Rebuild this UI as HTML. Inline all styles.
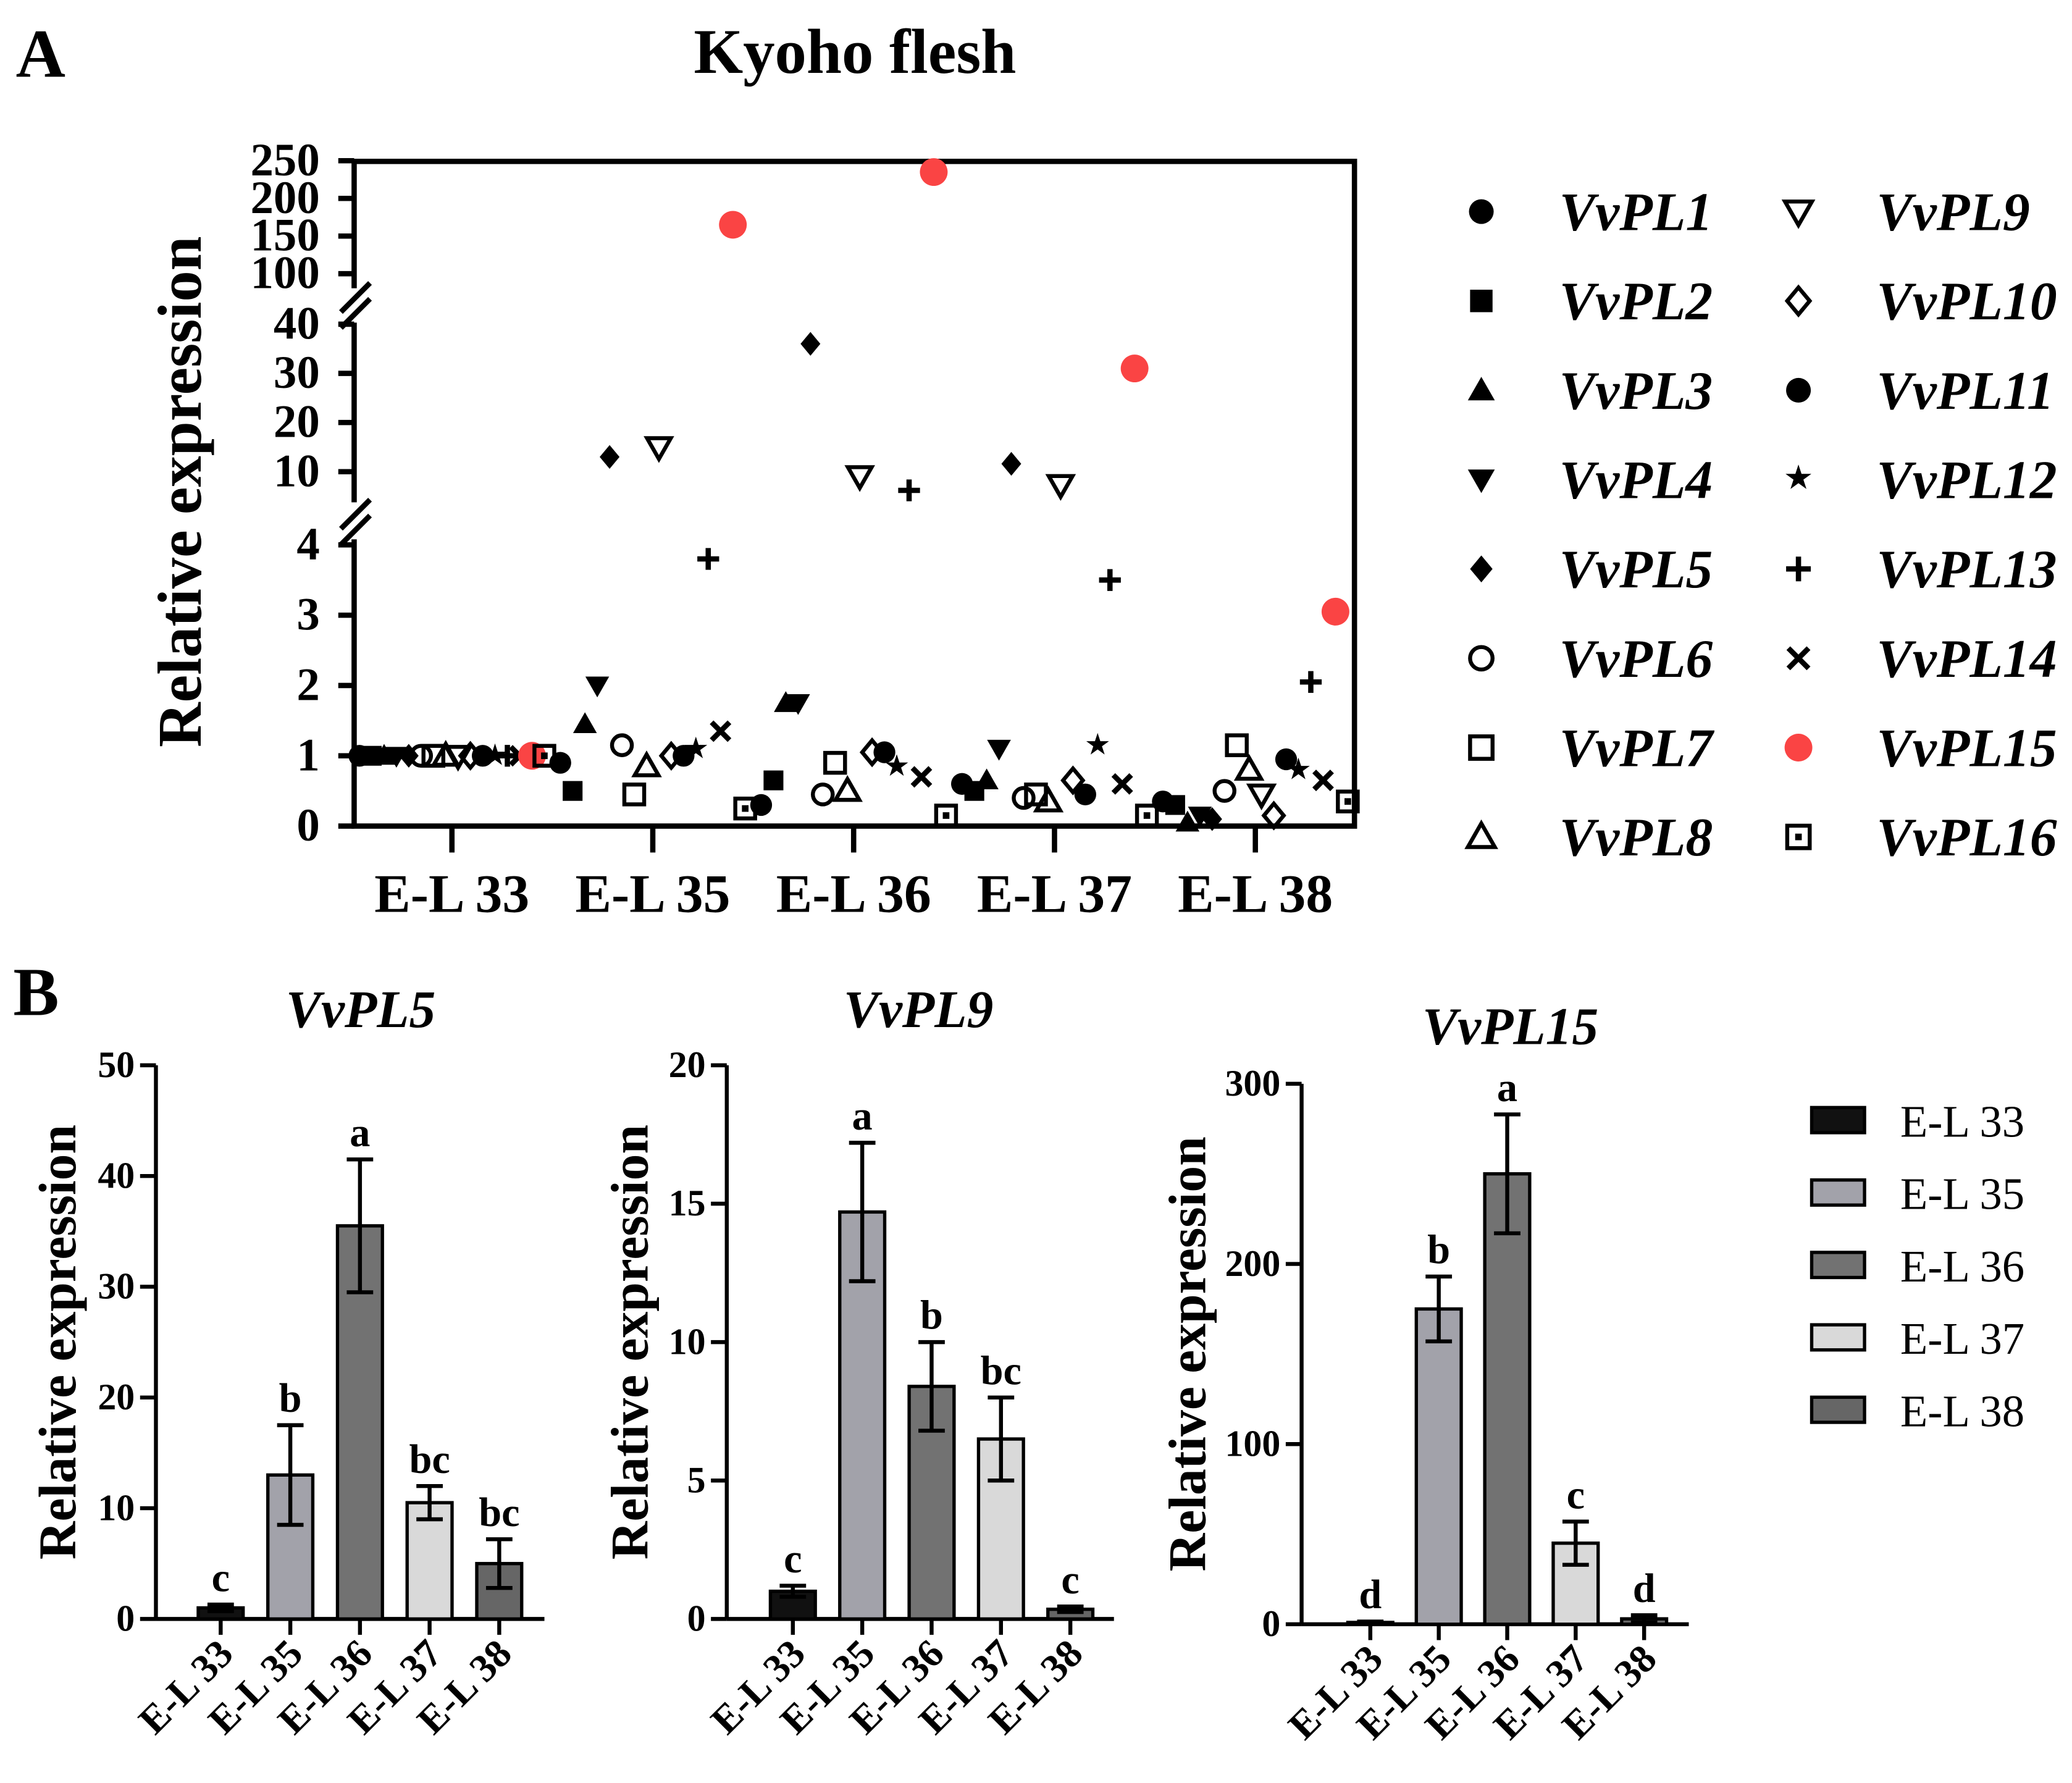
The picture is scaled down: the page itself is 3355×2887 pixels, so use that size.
<!DOCTYPE html>
<html><head><meta charset="utf-8"><style>
html,body{margin:0;padding:0;background:#fff}
svg{display:block}
text{font-family:"Liberation Serif",serif}
</style></head><body>
<svg id="fig" width="3355" height="2887" viewBox="0 0 1568 1349" xmlns="http://www.w3.org/2000/svg">
<rect width="1568" height="1349" fill="#fff"/>
<g id="A"></g>
<g id="B"></g>
</svg>
<script>
// ---------- Panel A data ----------
const stages = ["E-L 33","E-L 35","E-L 36","E-L 37","E-L 38"];
const genes = ["VvPL1","VvPL2","VvPL3","VvPL4","VvPL5","VvPL6","VvPL7","VvPL8","VvPL9","VvPL10","VvPL11","VvPL12","VvPL13","VvPL14","VvPL15","VvPL16"];
const el33 = [1,1,1,1,1,1,1,1,1,1,1,1,1,1,1,1];
const el35 = [0.9,0.5,1.45,2.0,13,1.15,0.45,0.85,15,1.0,1.0,1.1,3.8,1.35,165,0.25];
const el36 = [0.3,0.65,1.75,1.75,36,0.45,0.9,0.5,9.1,1.05,1.05,0.85,6.2,0.7,235,0.15];
const el37 = [0.6,0.5,0.65,1.1,11.6,0.4,0.45,0.35,7.3,0.65,0.45,1.15,3.5,0.6,31,0.15];
const el38 = [0.35,0.3,0.05,0.15,0.1,0.5,1.15,0.8,0.45,0.15,0.95,0.8,2.05,0.65,3.05,0.35];
const yTicksLow = [0,1,2,3,4];
const yTicksMid = [10,20,30,40];
const yTicksTop = [100,150,200,250];

// ---------- Panel B data ----------
const barStages = ["E-L 33","E-L 35","E-L 36","E-L 37","E-L 38"];
const pl5Vals = [1,13,35.5,10.5,5];
const pl5Err = [0.3,4.5,6,1.5,2.2];
const pl5Letters = ["c","b","a","bc","bc"];
const pl5Ticks = [0,10,20,30,40,50];
const pl9Vals = [1,14.7,8.4,6.5,0.35];
const pl9Err = [0.2,2.5,1.6,1.5,0.1];
const pl9Letters = ["c","a","b","bc","c"];
const pl9Ticks = [0,5,10,15,20];
const pl15Vals = [1,175,250,45,3];
const pl15Err = [0.5,18,33,12,2];
const pl15Letters = ["d","b","a","c","d"];
const pl15Ticks = [0,100,200,300];

const NS="http://www.w3.org/2000/svg";
function mk(parent,tag,attrs,txt){const e=document.createElementNS(NS,tag);for(const k in attrs)e.setAttribute(k,attrs[k]);if(txt!==undefined)e.textContent=txt;parent.appendChild(e);return e;}

// ---------- Panel A ----------
const A=document.getElementById('A');
function yA(v){ if(v<=4.3) return 625-v*53.2; if(v<=45) return 394-v*3.72; return 207-(v-100)*0.57; }
function xA(si,gi){ return 342+si*152-70+gi*9.33; }

let t;
t=mk(A,'text',{x:12,y:58,'font-size':52,'font-weight':'bold'},'A');

t=mk(A,'text',{x:647,y:55,'font-size':48,'font-weight':'bold','text-anchor':'middle'},'Kyoho flesh');

t=mk(A,'text',{x:0,y:0,'font-size':47,'font-weight':'bold','text-anchor':'middle',transform:'translate(152,372) rotate(-90)'},'Relative expression');


// axes
const axA=mk(A,'g',{stroke:'#000','stroke-width':4,fill:'none'});

mk(axA,'path',{d:'M268,122 H1025 V625 H268 Z'});
mk(A,'rect',{x:262,y:218,width:12,height:26,fill:'#fff'});
mk(A,'rect',{x:262,y:380,width:12,height:28,fill:'#fff'});
mk(A,'path',{d:'M258,236 L280,214 M258,248 L280,226 M258,400 L280,378 M258,412 L280,390',stroke:'#000','stroke-width':4});
function yTick(v){
  const y=yA(v);
  mk(A,'line',{x1:256,x2:268,y1:y,y2:y,stroke:'#000','stroke-width':4});
  const tl=mk(A,'text',{x:242,y:y+11,'font-size':35,'font-weight':'bold','text-anchor':'end'},String(v));
  
}
yTicksLow.forEach(yTick);yTicksMid.forEach(yTick);yTicksTop.forEach(yTick);
stages.forEach((s,i)=>{
  const x=342+i*152;
  mk(A,'line',{x1:x,x2:x,y1:625,y2:645,stroke:'#000','stroke-width':4});
  const tl=mk(A,'text',{x:x,y:690,'font-size':41,'font-weight':'bold','text-anchor':'middle'},s);
  
});

function marker(g,gi,x,y,s){
  const k='#000';
  switch(gi){
    case 0: case 10: mk(g,'circle',{cx:x,cy:y,r:s*0.55,fill:k});break;
    case 1: mk(g,'rect',{x:x-s*0.5,y:y-s*0.5,width:s,height:s,fill:k});break;
    case 2: mk(g,'path',{d:`M${x},${y-s*0.6} L${x+s*0.6},${y+s*0.45} L${x-s*0.6},${y+s*0.45}Z`,fill:k});break;
    case 3: mk(g,'path',{d:`M${x},${y+s*0.6} L${x+s*0.6},${y-s*0.45} L${x-s*0.6},${y-s*0.45}Z`,fill:k});break;
    case 4: mk(g,'path',{d:`M${x},${y-s*0.6} L${x+s*0.5},${y} L${x},${y+s*0.6} L${x-s*0.5},${y}Z`,fill:k});break;
    case 5: mk(g,'circle',{cx:x,cy:y,r:s*0.5,fill:'none',stroke:k,'stroke-width':3});break;
    case 6: mk(g,'rect',{x:x-s*0.5,y:y-s*0.5,width:s,height:s,fill:'none',stroke:k,'stroke-width':3});break;
    case 7: mk(g,'path',{d:`M${x},${y-s*0.6} L${x+s*0.6},${y+s*0.45} L${x-s*0.6},${y+s*0.45}Z`,fill:'none',stroke:k,'stroke-width':3});break;
    case 8: mk(g,'path',{d:`M${x},${y+s*0.6} L${x+s*0.6},${y-s*0.45} L${x-s*0.6},${y-s*0.45}Z`,fill:'none',stroke:k,'stroke-width':3});break;
    case 9: mk(g,'path',{d:`M${x},${y-s*0.6} L${x+s*0.5},${y} L${x},${y+s*0.6} L${x-s*0.5},${y}Z`,fill:'none',stroke:k,'stroke-width':3});break;
    case 11: mk(g,'text',{x:x,y:y+7,'font-size':s*1.5,'text-anchor':'middle','font-family':'DejaVu Sans'},'★');break;
    case 12: mk(g,'path',{d:`M${x-s*0.55},${y} H${x+s*0.55} M${x},${y-s*0.55} V${y+s*0.55}`,stroke:k,'stroke-width':4});break;
    case 13: mk(g,'path',{d:`M${x-s*0.45},${y-s*0.45} L${x+s*0.45},${y+s*0.45} M${x+s*0.45},${y-s*0.45} L${x-s*0.45},${y+s*0.45}`,stroke:k,'stroke-width':4});break;
    case 14: mk(g,'circle',{cx:x,cy:y,r:s*0.7,fill:'#fa4444'});break;
    case 15: mk(g,'rect',{x:x-s*0.5,y:y-s*0.5,width:s,height:s,fill:'none',stroke:k,'stroke-width':3});mk(g,'rect',{x:x-2.5,y:y-2.5,width:5,height:5,fill:k});break;
  }
}
const series=[el33,el35,el36,el37,el38];
genes.forEach((gname,gi)=>{
  const g=mk(A,'g',{});
  
  
  series.forEach((arr,si)=>{ marker(g,gi,xA(si,gi),yA(arr[gi]),15); });
  const col=gi<8?0:1,row=gi%8;
  const lx=1121+col*240, ly=160+row*67.6;
  const lg=mk(A,'g',{});
  
  
  marker(lg,gi,lx,ly,gi===14?15:17);
  mk(lg,'text',{x:lx+59,y:ly+14,'font-size':41,'font-weight':'bold','font-style':'italic'},gname);
});

// ---------- Panel B ----------
const B=document.getElementById('B');
t=mk(B,'text',{x:10,y:768,'font-size':52,'font-weight':'bold'},'B');

const fills=["#111111","#a2a2aa","#727272","#d9d9d9","#666666"];
function barChart(name,cfg,vals,errs,letters,ticks){
  const g=mk(B,'g',{});
  
  
  const max=ticks[ticks.length-1];
  const y=v=>cfg.y0-v/max*(cfg.y0-cfg.yTop);
  const tt=mk(g,'text',{x:cfg.tx,y:cfg.ty,'font-size':40,'font-weight':'bold','font-style':'italic','text-anchor':'middle'},name);
  
  const yt=mk(g,'text',{x:0,y:0,'font-size':40,'font-weight':'bold','text-anchor':'middle',transform:`translate(${cfg.yx},${(cfg.y0+cfg.yTop)/2}) rotate(-90)`},'Relative expression');
  
  mk(g,'line',{x1:cfg.x0,x2:cfg.x0,y1:cfg.yTop,y2:cfg.y0,stroke:'#000','stroke-width':3});
  mk(g,'line',{x1:cfg.x0,x2:cfg.x1,y1:cfg.y0,y2:cfg.y0,stroke:'#000','stroke-width':3});
  ticks.forEach(v=>{
    mk(g,'line',{x1:cfg.x0-12,x2:cfg.x0,y1:y(v),y2:y(v),stroke:'#000','stroke-width':3});
    const tl=mk(g,'text',{x:cfg.x0-16,y:y(v)+9,'font-size':28,'font-weight':'bold','text-anchor':'end'},String(v));
    
  });
  vals.forEach((v,i)=>{
    const cx=cfg.c0+i*cfg.dx, w=34;
    const r=mk(g,'rect',{x:cx-w/2,y:y(v),width:w,height:cfg.y0-y(v),fill:fills[i],stroke:'#000','stroke-width':2.5});
    
    
    const yh=y(v+errs[i]), yl=y(Math.max(0,v-errs[i]));
    mk(g,'path',{d:`M${cx},${yh} V${yl} M${cx-10},${yh} H${cx+10} M${cx-10},${yl} H${cx+10}`,stroke:'#000','stroke-width':3,fill:'none'});
    const lt=mk(g,'text',{x:cx,y:yh-10,'font-size':31,'font-weight':'bold','text-anchor':'middle'},letters[i]);
    
    mk(g,'line',{x1:cx,x2:cx,y1:cfg.y0,y2:cfg.y0+12,stroke:'#000','stroke-width':3});
    const xl=mk(g,'text',{x:0,y:0,'font-size':30,'font-weight':'bold','text-anchor':'end',transform:`translate(${cx+11},${cfg.y0+28}) rotate(-45)`},barStages[i]);
    
  });
}
barChart('VvPL5',{x0:118,x1:412,y0:1225,yTop:806,c0:167,dx:52.7,tx:273,ty:777,yx:57},pl5Vals,pl5Err,pl5Letters,pl5Ticks);
barChart('VvPL9',{x0:550,x1:843,y0:1225,yTop:806,c0:600,dx:52.5,tx:695,ty:777,yx:490},pl9Vals,pl9Err,pl9Letters,pl9Ticks);
barChart('VvPL15',{x0:985,x1:1278,y0:1229,yTop:820,c0:1037,dx:51.8,tx:1143,ty:790,yx:912},pl15Vals,pl15Err,pl15Letters,pl15Ticks);

barStages.forEach((s,i)=>{
  const lg=mk(B,'g',{});
  
  
  const ly=848+i*54.8;
  mk(lg,'rect',{x:1371,y:ly-10,width:40,height:19,fill:fills[i],stroke:'#000','stroke-width':2.5});
  mk(lg,'text',{x:1438,y:ly+12,'font-size':34},s);
});
</script>
</body></html>
